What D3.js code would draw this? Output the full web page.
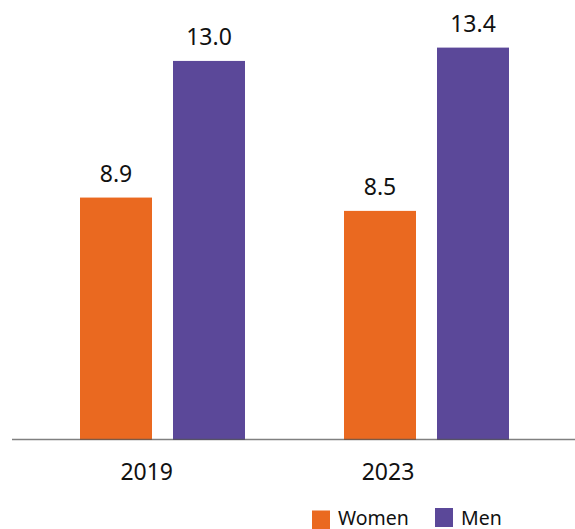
<!DOCTYPE html>
<html><head><meta charset="utf-8">
<script src="https://cdn.jsdelivr.net/npm/d3@7"></script>
<style>body{margin:0;background:#fff}svg{display:block}text{font-family:"Noto Sans",sans-serif;fill:#111}</style>
</head><body><svg id="c" width="575" height="529"></svg>
<script>
const categories = ["2019", "2023"];
const seriesNames = ["Women", "Men"];
const women = [8.9, 8.5];
const men = [13.0, 13.4];
const colors = ["#EA6920", "#5B4899"];

const svg = d3.select("#c");
const base = 439.5;
const x = d3.scaleBand().domain(categories).range([30.5, 558.5]);
const groupW = 165;
const xs = d3.scaleBand().domain(seriesNames).range([0, groupW]).paddingInner(0.2258);
const y = d3.scaleLinear().domain([1.64, 13.4]).range([base, 47.6]);
const labelX = d3.scalePoint().domain(categories).range([146.7, 388]);

const data = categories.map((c, i) => ({cat: c, vals: [{s: "Women", v: women[i]}, {s: "Men", v: men[i]}]}));
const g = svg.selectAll("g.cat").data(data).join("g").attr("class","cat")
  .attr("transform", d => `translate(${x(d.cat) + (x.bandwidth() - groupW)/2},0)`);
g.selectAll("rect").data(d => d.vals).join("rect")
  .attr("x", d => xs(d.s)).attr("width", xs.bandwidth())
  .attr("y", d => y(d.v)).attr("height", d => base + 0.5 - y(d.v))
  .attr("fill", (d,i) => colors[i]);
g.selectAll("text.val").data(d => d.vals).join("text").attr("class","val")
  .attr("x", d => xs(d.s) + xs.bandwidth()/2).attr("y", d => y(d.v) - 16)
  .attr("text-anchor","middle").style("font-size","23px")
  .text(d => d.v.toFixed(1));

svg.append("line").attr("x1", 12).attr("x2", 575).attr("y1", base).attr("y2", base)
  .attr("stroke", "#555").attr("stroke-opacity", 0.75).attr("stroke-width", 1.5);

svg.selectAll("text.cat").data(categories).join("text").attr("class","cat")
  .attr("x", d => labelX(d)).attr("y", 479.5).attr("text-anchor","middle")
  .style("font-size","23px").text(d => d);

const legX = [312, 435];
const leg = svg.selectAll("g.leg").data(seriesNames).join("g").attr("class","leg")
  .attr("transform", (d,i) => `translate(${legX[i]},0)`);
leg.append("rect").attr("x",0).attr("y",(d,i)=> i===0?510.5:508).attr("width",18).attr("height",19)
  .attr("fill",(d,i)=>colors[i]);
leg.append("text").attr("x",26).attr("y",525).style("font-size","19.5px").text(d=>d);
</script></body></html>
